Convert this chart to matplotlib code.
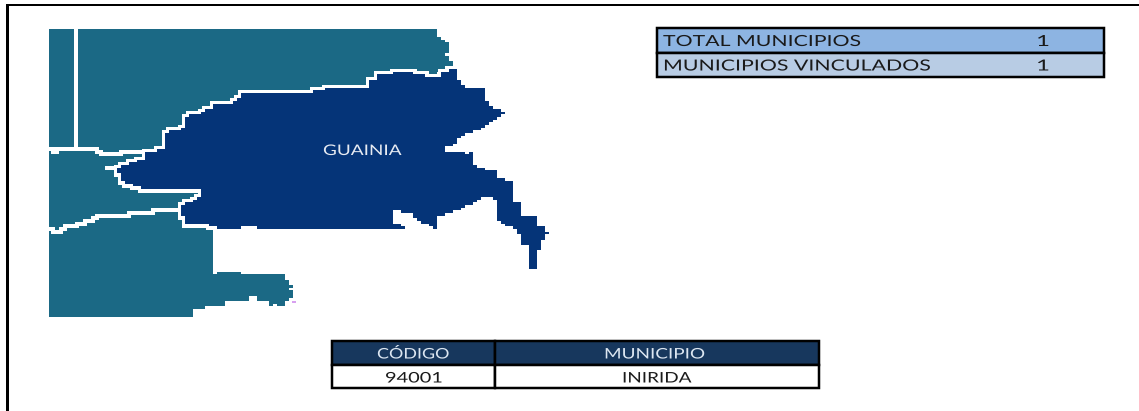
import math
import matplotlib
matplotlib.use("Agg")
import matplotlib.pyplot as plt
from matplotlib.patches import Polygon, Rectangle
from matplotlib.patheffects import AbstractPathEffect
from matplotlib.transforms import Affine2D

# Map shapes, traced in reference pixels (x, y)
guainia_outline = [
 (116,169),(119,165),(127,163),(136,160),(144,159),(144,153),(156,152),(160,148),(164,146),(164,132),
 (173,130),(185,127),(185,117),(189,115),(197,115),(202,112),(213,107),(214,103),(235,102),(243,94),
 (263,92),(280,94),(300,94),(325,89),(338,88),(367,87),(367,82),(375,77),(383,74),(395,72),(408,73),
 (433,77),(442,73),(449,69),(457,69),(457,77),(461,83),(466,89),(482,89),(486,95),(486,102),(490,107),
 (499,110),(503,113),(499,120),(490,122),(482,130),(470,133),(461,138),(453,145),(441,150),(457,152),
 (466,155),(470,152),(474,157),(474,165),(486,170),(499,173),(499,178),(507,182),(515,185),(511,195),
 (515,203),(523,203),(523,215),(536,215),(536,225),(544,228),(549,233),(544,240),(540,240),(540,251),
 (536,251),(536,268),(527,268),(527,246),(523,246),(519,234),(515,226),(503,223),(499,218),(499,200),
 (493,198),(486,198),(478,203),(470,205),(461,210),(449,213),(437,218),(437,228),(433,228),(433,225),
 (424,224),(416,219),(412,213),(403,213),(403,210),(395,213),(391,218),(395,223),(400,226),(404,229),
 (371,229),(370,228),(258,228),(258,225),(243,225),(243,228),(222,228),(218,230),(218,227),(210,225),
 (207,223),(189,223),(185,219),(181,215),(181,205),(189,202),(197,197),(202,197),(202,191),(197,188),
 (144,188),(132,185),(123,178),(119,173),
]
neighbor_outline = [
 (49,29),(437,29),(437,37),(441,38),(445,43),(449,44),(449,52),(445,52),(445,57),(449,62),(453,62),
 (453,67),(445,68),(441,72),(430,80),(300,150),(214,228),(214,273),(222,271),(243,271),(243,273),
 (258,273),(260,276),(263,273),(280,273),(284,276),(284,281),(288,282),(288,286),(292,286),(292,288),
 (288,290),(292,292),(292,296),(288,297),(292,298),(288,301),(284,303),(284,306),(276,306),(276,303),
 (272,303),(272,306),(268,306),(268,301),(259,301),(255,297),(251,296),(247,298),(247,301),(243,301),
 (243,303),(239,303),(239,301),(230,301),(226,303),(226,306),(206,306),(206,308),(193,308),(193,316),
 (49,316),
]
west_border_upper = [(49,149),(53,151),(62,149),(78,150),(90,149),(97,149),(97,153),(108,155),(120,155),
                     (120,152),(155,152)]
west_border_lower = [(49,230),(53,232),(61,231),(62,228),(73,226),(78,223),(90,221),(95,216),(130,215),
                     (130,213),(147,212),(163,210),(179,208)]
vertical_border = [(76,29),(76,150)]
apex_border = [(103,169),(118,169)]

# Tables
summary_labels = ["TOTAL MUNICIPIOS", "MUNICIPIOS VINCULADOS"]
summary_values = ["1", "1"]
table_headers = ["CÓDIGO", "MUNICIPIO"]
table_row = ["94001", "INIRIDA"]
region_label = "GUAINIA"

TEAL = "#1B6985"
BLUE = "#053478"
FONT = "Lato"
PX = 72 / 100  # one reference pixel in points
CELL_W, CELL_H = 4.0, 8 / 3  # raster cell of the original map image


def blocky(points, closed=True):
    """Render a traced outline on the map image's raster cells."""
    snap = lambda x, y: (49 + round((x - 49) / CELL_W) * CELL_W,
                         29 + round((y - 29) / CELL_H) * CELL_H)
    seq = list(points) + ([points[0]] if closed else [])
    out = [snap(*seq[0])]
    for (x0, y0), (x1, y1) in zip(seq[:-1], seq[1:]):
        n = max(1, math.ceil(abs(x1 - x0) / CELL_W), math.ceil(abs(y1 - y0) / CELL_H))
        for k in range(1, n + 1):
            nx, ny = snap(x0 + (x1 - x0) * k / n, y0 + (y1 - y0) * k / n)
            px, py = out[-1]
            if nx != px and ny != py:
                out.append((nx, py))
            if (nx, ny) != out[-1]:
                out.append((nx, ny))
    return out


class StretchX(AbstractPathEffect):
    """Widen a text horizontally about its anchor (the source image was stretched)."""
    def __init__(self, factor, cx):
        super().__init__()
        self.factor, self.cx = factor, cx

    def draw_path(self, renderer, gc, tpath, affine, rgbFace=None):
        extra = Affine2D().translate(-self.cx, 0).scale(self.factor, 1).translate(self.cx, 0)
        renderer.draw_path(gc, tpath, affine + extra, rgbFace)


fig = plt.figure(figsize=(11.39, 4.11), dpi=100)
ax = fig.add_axes([0, 0, 1, 1])
ax.set_xlim(0, 1139)
ax.set_ylim(411, 0)
ax.axis("off")
renderer = fig.canvas.get_renderer()


def fit_text(x0, x1, baseline, s, size, color):
    """Real text centred in [x0, x1], stretched horizontally to span it."""
    cx = (x0 + x1) / 2
    t = ax.text(cx, baseline, s, color=color, fontsize=size, family=FONT,
                ha="center", va="baseline", zorder=4)
    natural = t.get_window_extent(renderer).width
    t.set_path_effects([StretchX((x1 - x0) / natural, cx)])
    return t


# Page frame
ax.add_patch(Rectangle((6, 4), 2.5, 407, fc="black", ec="none"))
ax.add_patch(Rectangle((6, 4), 1133, 2.5, fc="black", ec="none"))

# Map
guainia_shape = blocky(guainia_outline)
ax.add_patch(Polygon(blocky(neighbor_outline), closed=True, fc=TEAL, ec="none", antialiased=False, zorder=1))
ax.add_patch(Polygon(guainia_shape, closed=True, fc="none", ec="white", lw=7 * PX,
                     joinstyle="miter", antialiased=False, zorder=2))
for line in (west_border_upper, west_border_lower, apex_border):
    xs, ys = zip(*blocky(line, closed=False))
    ax.plot(xs, ys, color="white", lw=3.5 * PX, solid_capstyle="butt", zorder=2.5, antialiased=False)
xs, ys = zip(*vertical_border)
ax.plot(xs, ys, color="white", lw=4 * PX, solid_capstyle="butt", zorder=2.5, antialiased=False)
ax.add_patch(Polygon(guainia_shape, closed=True, fc=BLUE, ec="none", antialiased=False, zorder=3))
ax.add_patch(Rectangle((292, 301), 4, 2, fc="#D8A0F0", ec="none", zorder=3))
fit_text(323, 402, 155, region_label, 10.5, "#E6EAF2")

# Summary table
LW = 2.5 * PX
INK = "#1A1A1A"
ax.add_patch(Rectangle((656.5, 28.5), 447, 25, fc="#8DB4E2", ec="black", lw=LW, zorder=2))
ax.add_patch(Rectangle((656.5, 53.5), 447, 23.5, fc="#B8CCE4", ec="black", lw=LW, zorder=2))
fit_text(663, 861, 46, summary_labels[0], 11, INK)
fit_text(663, 931, 70.5, summary_labels[1], 11, INK)
fit_text(1036, 1050, 46, summary_values[0], 11, INK)
fit_text(1036, 1050, 70.5, summary_values[1], 11, INK)

# Municipality table
col_edges = [332, 495, 819]
for i in range(2):
    x0, x1 = col_edges[i], col_edges[i + 1]
    ax.add_patch(Rectangle((x0, 341), x1 - x0, 24, fc="#17375D", ec="black", lw=LW, zorder=2))
    ax.add_patch(Rectangle((x0, 365), x1 - x0, 23, fc="white", ec="black", lw=LW, zorder=2))
fit_text(377, 450, 358.5, table_headers[0], 10.5, "#DCE6F1")
fit_text(604, 706, 358.5, table_headers[1], 10.5, "#DCE6F1")
fit_text(385, 443, 382.5, table_row[0], 10.5, INK)
fit_text(622, 692, 382.5, table_row[1], 10.5, INK)

fig.savefig("out.png", dpi=100)
